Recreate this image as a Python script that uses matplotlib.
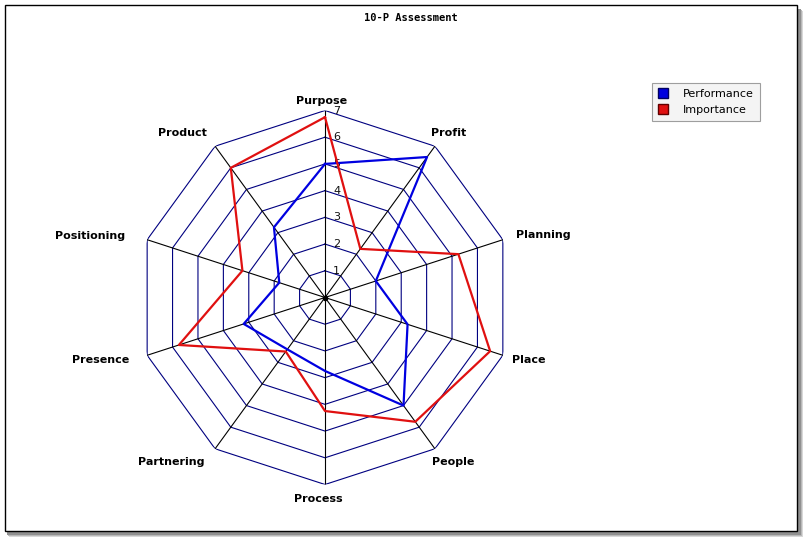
import numpy as np
import matplotlib
matplotlib.use("Agg")
import matplotlib.pyplot as plt
from matplotlib.patches import Rectangle
from matplotlib.lines import Line2D

categories = ["Purpose", "Profit", "Planning", "Place", "People",
              "Process", "Partnering", "Presence", "Positioning", "Product"]
performance = [5.0, 6.5, 2.0, 3.25, 5.0, 2.75, 2.4, 3.2, 1.8, 3.25]
importance = [6.75, 2.25, 5.25, 6.5, 5.75, 4.25, 2.5, 5.75, 3.25, 6.0]
ring_levels = [1, 2, 3, 4, 5, 6, 7]
title = "10-P Assessment"

W, H = 807, 539
fig = plt.figure(figsize=(W / 100, H / 100), dpi=100)
fig.patch.set_facecolor("white")

# frame with shadow
for i, c in enumerate(["#d8d8d8", "#b8b8b8", "#909090"]):
    fig.patches.append(Rectangle(((6 + 3 - i) / W, (539 - 537 + i) / H),
                                 (797 - 6 + 3) / W, (531 - 5) / H,
                                 transform=fig.transFigure, facecolor=c,
                                 edgecolor="none", zorder=0))
fig.patches.append(Rectangle((5 / W, (539 - 531) / H), (797 - 5) / W, (531 - 5) / H,
                             transform=fig.transFigure, facecolor="white",
                             edgecolor="black", linewidth=1.0, zorder=1))

cx, cy, R = 325, 297.5, 187
ax = fig.add_axes([(cx - R) / W, (H - cy - R) / H, 2 * R / W, 2 * R / H],
                  projection="polar")
ax.set_zorder(2)
ax.set_theta_zero_location("N")
ax.set_theta_direction(-1)
ax.set_ylim(0, 7)
ax.grid(False)
ax.set_xticks([])
ax.set_yticks([])
ax.spines["polar"].set_visible(False)
ax.patch.set_alpha(0)

n = len(categories)
angles = np.arange(n) * 2 * np.pi / n
closed = np.append(angles, angles[0])

for lv in ring_levels:
    ax.plot(closed, [lv] * (n + 1), color="#000080", lw=0.8, zorder=1)
for a in angles:
    ax.plot([a, a], [0, ring_levels[-1]], color="black", lw=0.8, zorder=1)
ax.plot([0], [0], marker="o", color="black", ms=3, zorder=2)

for lv in ring_levels:
    ax.annotate(str(lv), xy=(0, lv), xytext=(8, 0), textcoords="offset pixels",
                ha="left", va="center", fontsize=8, color="#111111",
                family="DejaVu Sans")

ax.plot(closed, performance + performance[:1], color="#0000e0", lw=1.6, zorder=3)
ax.plot(closed, importance + importance[:1], color="#e01010", lw=1.6, zorder=3)

label_offsets = [(-3, 5, "center", "bottom"), (-4, 13, "left", "center"),
                 (13, 5, "left", "center"), (9, -5, "left", "center"),
                 (-3, -13, "left", "center"), (-7, -14, "center", "center"),
                 (-11, -13, "right", "center"), (-18, -5, "right", "center"),
                 (-22, 4, "right", "center"), (-8, 13, "right", "center")]
for a, lab, (dx, dy, ha, va) in zip(angles, categories, label_offsets):
    ax.annotate(lab, xy=(a, ring_levels[-1]), xytext=(dx, dy),
                textcoords="offset pixels", ha=ha, va=va, fontsize=8,
                fontweight="bold", family="DejaVu Sans", annotation_clip=False)

fig.text(411 / W, 1 - 18 / H, title, ha="center", va="center", fontsize=7.5,
         fontweight="bold", family="DejaVu Sans Mono")

handles = [Line2D([], [], marker="s", linestyle="none", markersize=7,
                  markerfacecolor="#0000e0", markeredgecolor="#000060"),
           Line2D([], [], marker="s", linestyle="none", markersize=7,
                  markerfacecolor="#e01010", markeredgecolor="#600000")]
leg = fig.legend(handles, ["Performance", "Importance"], loc="upper left",
                 bbox_to_anchor=(652 / W, 1 - 83 / H), frameon=True,
                 fancybox=False, handletextpad=1.3,
                 borderpad=0.5, labelspacing=0.6, handlelength=1.0,
                 borderaxespad=0,
                 prop={"family": "DejaVu Sans", "size": 8})
leg.get_frame().set_facecolor("#f2f2f2")
leg.get_frame().set_edgecolor("#888888")
leg.get_frame().set_linewidth(0.8)
leg.set_zorder(5)

fig.savefig("out.png", dpi=100)
